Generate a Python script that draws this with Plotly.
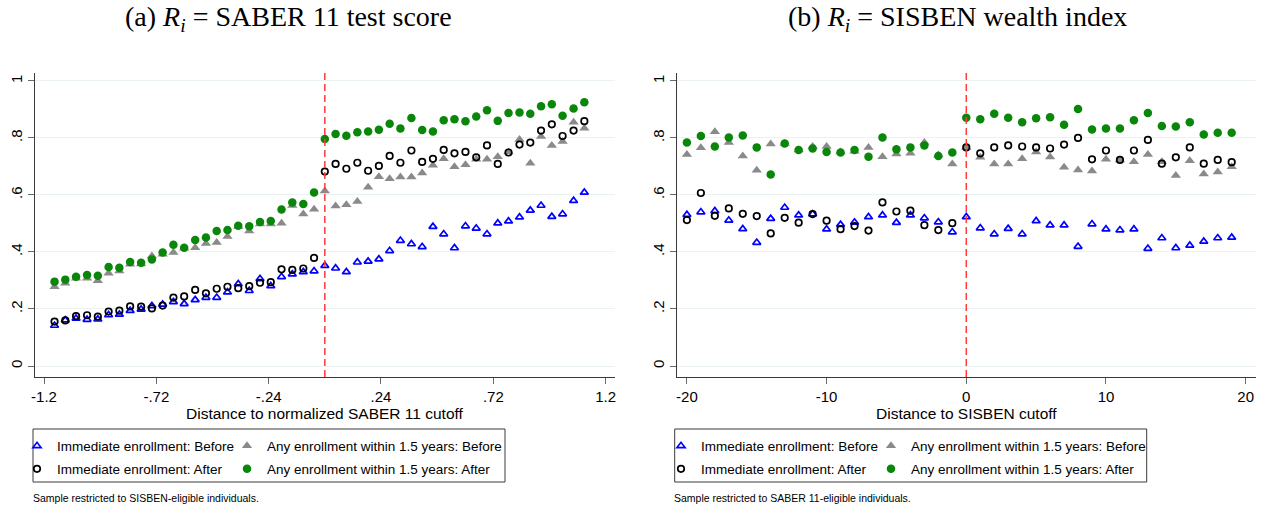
import plotly.graph_objects as go

# ---------------- data ----------------
# Panel (a): distance to normalized SABER 11 cutoff (bin centres)
x_a = [-1.155, -1.109, -1.063, -1.016, -0.970, -0.924, -0.878, -0.832, -0.785, -0.739,
       -0.693, -0.647, -0.601, -0.554, -0.508, -0.462, -0.416, -0.370, -0.323, -0.277,
       -0.231, -0.185, -0.139, -0.092, -0.046, 0.000, 0.046, 0.092, 0.139, 0.185,
       0.231, 0.277, 0.323, 0.370, 0.416, 0.462, 0.508, 0.554, 0.601, 0.647,
       0.693, 0.739, 0.785, 0.832, 0.878, 0.924, 0.970, 1.016, 1.063, 1.109]

imm_before_a = [0.142, 0.161, 0.167, 0.163, 0.164, 0.179, 0.181, 0.194, 0.199, 0.211,
                0.216, 0.225, 0.218, 0.232, 0.240, 0.240, 0.259, 0.288, 0.264, 0.306,
                0.281, 0.313, 0.322, 0.330, 0.333, 0.352,
                0.343, 0.330, 0.364, 0.367, 0.375, 0.404, 0.440, 0.428, 0.418, 0.489,
                0.463, 0.414, 0.491, 0.483, 0.463, 0.501, 0.508, 0.522, 0.546, 0.563,
                0.524, 0.533, 0.580, 0.609]
any_before_a = [0.278, 0.290, 0.308, 0.308, 0.299, 0.325, 0.333, 0.357, 0.358, 0.386,
                0.392, 0.398, 0.413, 0.415, 0.430, 0.433, 0.454, 0.489, 0.474, 0.498,
                0.498, 0.501, 0.563, 0.533, 0.550, 0.614,
                0.561, 0.566, 0.577, 0.627, 0.664, 0.657, 0.663, 0.663, 0.677, 0.704,
                0.727, 0.699, 0.706, 0.725, 0.725, 0.734, 0.751, 0.795, 0.711, 0.805,
                0.774, 0.788, 0.855, 0.834]
imm_after_a = [0.156, 0.160, 0.175, 0.178, 0.173, 0.191, 0.194, 0.209, 0.208, 0.202,
               0.212, 0.240, 0.244, 0.267, 0.255, 0.271, 0.278, 0.273, 0.280, 0.292,
               0.294, 0.339, 0.337, 0.342, 0.379, 0.682,
               0.709, 0.692, 0.713, 0.685, 0.702, 0.737, 0.713, 0.756, 0.716, 0.727,
               0.758, 0.746, 0.751, 0.732, 0.774, 0.709, 0.749, 0.777, 0.784, 0.826,
               0.848, 0.807, 0.826, 0.859]
any_after_a = [0.296, 0.303, 0.313, 0.319, 0.317, 0.347, 0.345, 0.365, 0.362, 0.374,
               0.398, 0.425, 0.415, 0.442, 0.451, 0.474, 0.477, 0.492, 0.490, 0.505,
               0.509, 0.549, 0.574, 0.568, 0.609, 0.796,
               0.814, 0.808, 0.820, 0.823, 0.829, 0.850, 0.833, 0.870, 0.828, 0.823,
               0.862, 0.866, 0.859, 0.875, 0.897, 0.860, 0.888, 0.889, 0.885, 0.911,
               0.918, 0.878, 0.903, 0.925]

# Panel (b): distance to SISBEN cutoff
x_b = [-20, -19, -18, -17, -16, -15, -14, -13, -12, -11, -10, -9, -8, -7, -6, -5, -4, -3, -2, -1,
       0, 1, 2, 3, 4, 5, 6, 7, 8, 9, 10, 11, 12, 13, 14, 15, 16, 17, 18, 19]

imm_before_b = [0.531, 0.540, 0.544, 0.511, 0.481, 0.433, 0.517, 0.556, 0.529, 0.533,
                0.480, 0.496, 0.504, 0.523, 0.529, 0.503, 0.529, 0.519, 0.505, 0.470,
                0.523,
                0.484, 0.463, 0.482, 0.463, 0.509, 0.494, 0.494, 0.419, 0.498, 0.480,
                0.477, 0.480, 0.412, 0.449, 0.414, 0.423, 0.437, 0.449, 0.451]
any_before_b = [0.742, 0.766, 0.822, 0.784, 0.737, 0.687, 0.779, 0.781, 0.758, 0.770,
                0.770, 0.751, 0.753, 0.767, 0.734, 0.744, 0.746, 0.784, 0.740, 0.709,
                0.767,
                0.732, 0.709, 0.709, 0.727, 0.751, 0.733, 0.697, 0.688, 0.684, 0.725,
                0.723, 0.717, 0.742, 0.717, 0.668, 0.720, 0.674, 0.681, 0.699]
imm_after_b = [0.512, 0.607, 0.527, 0.553, 0.534, 0.526, 0.465, 0.520, 0.503, 0.533,
               0.510, 0.480, 0.491, 0.475, 0.574, 0.542, 0.545, 0.494, 0.477, 0.501,
               0.767,
               0.746, 0.767, 0.774, 0.770, 0.767, 0.763, 0.777, 0.800, 0.725, 0.756,
               0.723, 0.756, 0.793, 0.710, 0.732, 0.767, 0.710, 0.723, 0.715]
any_after_b = [0.784, 0.807, 0.770, 0.802, 0.809, 0.767, 0.672, 0.781, 0.758, 0.763,
               0.751, 0.749, 0.758, 0.734, 0.802, 0.760, 0.767, 0.774, 0.737, 0.749,
               0.871,
               0.866, 0.885, 0.871, 0.855, 0.869, 0.873, 0.846, 0.902, 0.830, 0.833,
               0.833, 0.862, 0.888, 0.842, 0.840, 0.855, 0.812, 0.818, 0.818]

series_names = ["Immediate enrollment: Before", "Any enrollment within 1.5 years: Before",
                "Immediate enrollment: After", "Any enrollment within 1.5 years: After"]

y_tickvals = [0, 0.2, 0.4, 0.6, 0.8, 1.0]
y_ticktext = ["0", ".2", ".4", ".6", ".8", "1"]
xa_tickvals = [-1.2, -0.72, -0.24, 0.24, 0.72, 1.2]
xa_ticktext = ["-1.2", "-.72", "-.24", ".24", ".72", "1.2"]
xb_tickvals = [-20, -10, 0, 10, 20]
xb_ticktext = ["-20", "-10", "0", "10", "20"]

# ---------------- styling ----------------
W, H = 1271, 509
SANS = "Liberation Sans, Arial, Helvetica, sans-serif"
SERIF = "Liberation Serif, Times New Roman, serif"

styles = [
    dict(symbol="triangle-up-open", size=7, color="#0000ff", line=dict(width=1.7, color="#0000ff")),
    dict(symbol="triangle-up", size=9, color="#8a8a8a", line=dict(width=0)),
    dict(symbol="circle-open", size=6.5, color="#000000", line=dict(width=1.7, color="#000000")),
    dict(symbol="circle", size=8.5, color="#0a870a", line=dict(width=0)),
]


def px_x(p):
    return p / W


def px_y(p):
    return 1 - p / H


fig = go.Figure()

panels = [
    ("x", "y", x_a, [imm_before_a, any_before_a, imm_after_a, any_after_a], 0),
    ("x2", "y2", x_b, [imm_before_b, any_before_b, imm_after_b, any_after_b], 4),
]

for xax, yax, xs, ys_list, legoff in panels:
    for i, ys in enumerate(ys_list):
        leg = "legend" if legoff + i == 0 else "legend%d" % (legoff + i + 1)
        fig.add_trace(go.Scatter(
            x=xs, y=ys, mode="markers", name=series_names[i],
            marker=styles[i], xaxis=xax, yaxis=yax,
            legend=leg, showlegend=True,
        ))

# legends: one per entry so they can be placed exactly
legend_cols = [37, 247, 681, 891]  # marker centre pixels
row_y = [446, 469]
leg_layout = {}
idx = 0
for panel in range(2):
    for i in range(4):
        col = i % 2
        row = i // 2
        mx = legend_cols[panel * 2 + col]
        key = "legend" if idx == 0 else "legend%d" % (idx + 1)
        leg_layout[key] = dict(
            x=px_x(mx - 20), y=px_y(row_y[row]), xanchor="left", yanchor="middle",
            xref="paper", yref="paper", bgcolor="rgba(0,0,0,0)", borderwidth=0,
            font=dict(family=SANS, size=13.5, color="#000000"),
        )
        idx += 1

axis_common = dict(showline=True, linecolor="#3a3a3a", linewidth=1, ticks="outside",
                   ticklen=6, tickcolor="#6a6a6a", tickwidth=1, zeroline=False,
                   tickfont=dict(family=SANS, size=15, color="#000000"))

fig.update_layout(
    width=W, height=H,
    margin=dict(l=0, r=0, t=0, b=0, autoexpand=False),
    paper_bgcolor="white", plot_bgcolor="white",
    xaxis=dict(domain=[px_x(35), px_x(615)], range=[-1.2385, 1.240], anchor="y",
               tickvals=xa_tickvals, ticktext=xa_ticktext, showgrid=False, **axis_common),
    yaxis=dict(domain=[px_y(377), px_y(72.7)], range=[-0.0386, 1.029], anchor="x",
               tickvals=y_tickvals, ticktext=y_ticktext, tickangle=-90,
               showgrid=True, gridcolor="#eaf2f3", gridwidth=1, **axis_common),
    xaxis2=dict(domain=[px_x(676.7), px_x(1256)], range=[-20.73, 20.74], anchor="y2",
                tickvals=xb_tickvals, ticktext=xb_ticktext, showgrid=False, **axis_common),
    yaxis2=dict(domain=[px_y(377), px_y(72.7)], range=[-0.0386, 1.029], anchor="x2",
                tickvals=y_tickvals, ticktext=y_ticktext, tickangle=-90,
                showgrid=True, gridcolor="#eaf2f3", gridwidth=1, **axis_common),
    **leg_layout,
)

# cutoff lines
for xr, yr in [("x", "y"), ("x2", "y2")]:
    fig.add_shape(type="line", x0=0, x1=0, xref=xr, y0=0, y1=1, yref=yr + " domain",
                  line=dict(color="#ff3b3b", width=1.5, dash="7px,4px"))

# legend boxes
for x0, x1 in [(33, 505), (674.7, 1146.7)]:
    fig.add_shape(type="rect", xref="paper", yref="paper",
                  x0=px_x(x0), x1=px_x(x1), y0=px_y(482), y1=px_y(429),
                  line=dict(color="#3a3a3a", width=1), fillcolor="rgba(0,0,0,0)")

# titles
fig.add_annotation(x=px_x(288), y=px_y(19), xref="paper", yref="paper", showarrow=False,
                   xanchor="center", yanchor="middle",
                   text="(a) <i>R</i><sub><i>i</i></sub> = SABER 11 test score",
                   font=dict(family=SERIF, size=28, color="#000000"))
fig.add_annotation(x=px_x(957), y=px_y(19), xref="paper", yref="paper", showarrow=False,
                   xanchor="center", yanchor="middle",
                   text="(b) <i>R</i><sub><i>i</i></sub> = SISBEN wealth index",
                   font=dict(family=SERIF, size=28, color="#000000"))

# axis titles
fig.add_annotation(x=px_x(325), y=px_y(413), xref="paper", yref="paper", showarrow=False,
                   xanchor="center", yanchor="middle", borderpad=0,
                   text="Distance to normalized SABER 11 cutoff",
                   font=dict(family=SANS, size=15.5, color="#000000"))
fig.add_annotation(x=px_x(966), y=px_y(413), xref="paper", yref="paper", showarrow=False,
                   xanchor="center", yanchor="middle", borderpad=0,
                   text="Distance to SISBEN cutoff",
                   font=dict(family=SANS, size=15.5, color="#000000"))

# notes
fig.add_annotation(x=px_x(31), y=px_y(498), xref="paper", yref="paper", showarrow=False,
                   xanchor="left", yanchor="middle",
                   text="Sample restricted to SISBEN-eligible individuals.",
                   font=dict(family=SANS, size=10.5, color="#000000"))
fig.add_annotation(x=px_x(672), y=px_y(498), xref="paper", yref="paper", showarrow=False,
                   xanchor="left", yanchor="middle",
                   text="Sample restricted to SABER 11-eligible individuals.",
                   font=dict(family=SANS, size=10.5, color="#000000"))

fig.write_html("out.html")
